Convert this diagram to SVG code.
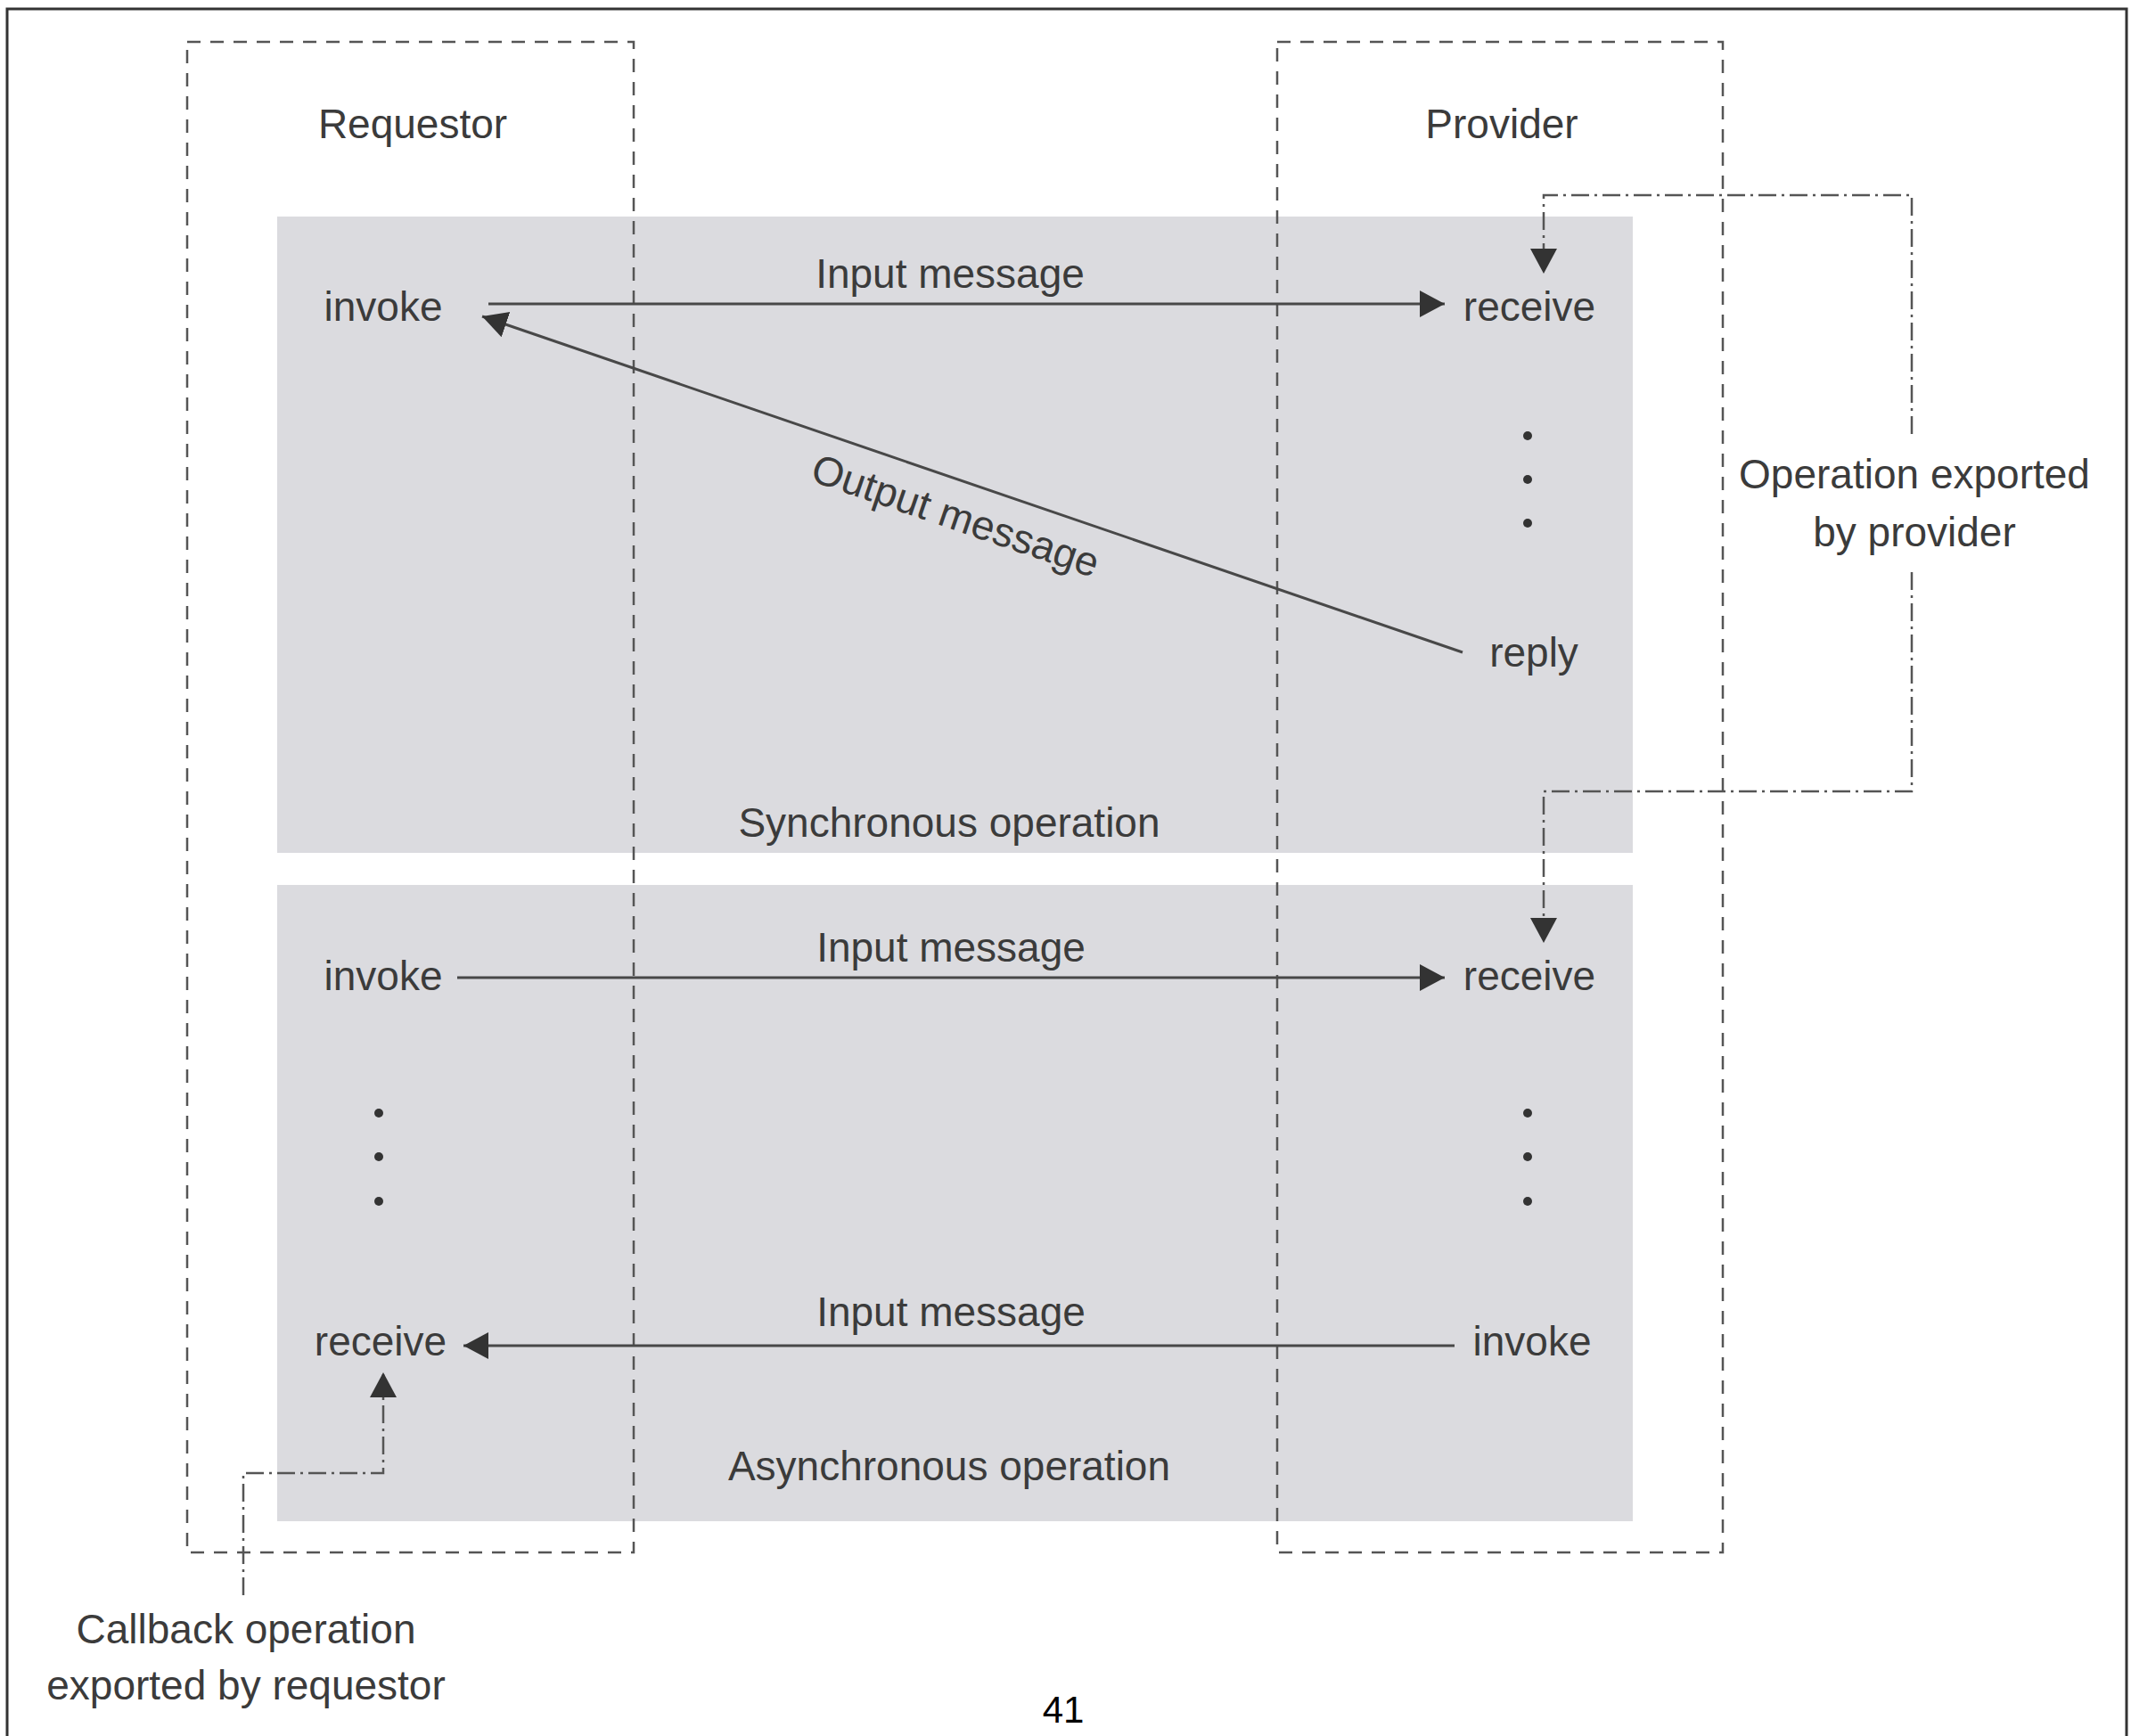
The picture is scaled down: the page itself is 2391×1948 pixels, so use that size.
<svg xmlns="http://www.w3.org/2000/svg" width="2391" height="1948" viewBox="0 0 2391 1948">
<style>
  .lbl { font-family: "Liberation Sans", Arial, sans-serif; font-size: 46px; fill: #3b3b3b; text-anchor: middle; }
  .panel { fill: #dbdbdf; stroke: none; }
  .lane { fill: none; stroke: #555; stroke-width: 2.5; stroke-dasharray: 15 11; }
  .msg { fill: none; stroke: #484848; stroke-width: 3; }
  .exp { fill: none; stroke: #555; stroke-width: 2.5; stroke-dasharray: 20 6 3 6; }
  .dot { fill: #333; }
</style>
<defs>
  <marker id="arrow" markerUnits="userSpaceOnUse" markerWidth="30" markerHeight="32" refX="28" refY="15" orient="auto">
    <path d="M0,0 L28,15 L0,30 Z" fill="#333"/>
  </marker>
</defs>
<rect x="0" y="0" width="2391" height="1948" fill="#fff"/>
<path d="M8,1948 V10 H2386 V1948" fill="none" stroke="#333" stroke-width="3"/>

<g id="sync-panel">
  <rect class="panel" x="311" y="243" width="1521" height="714"/>
  <text class="lbl" x="1065" y="939">Synchronous operation</text>
</g>
<g id="async-panel">
  <rect class="panel" x="311" y="993" width="1521" height="714"/>
  <text class="lbl" x="1065" y="1661">Asynchronous operation</text>
</g>

<g id="requestor">
  <rect class="lane" x="210" y="47" width="501" height="1695"/>
  <text class="lbl" x="463" y="155">Requestor</text>
</g>
<g id="provider">
  <rect class="lane" x="1433" y="47" width="500" height="1695"/>
  <text class="lbl" x="1685" y="155">Provider</text>
</g>

<g id="sync-invoke"><text class="lbl" x="430" y="360">invoke</text></g>
<g id="sync-receive"><text class="lbl" x="1716" y="360">receive</text></g>
<g id="sync-dots">
  <circle class="dot" cx="1714" cy="489" r="5"/>
  <circle class="dot" cx="1714" cy="538" r="5"/>
  <circle class="dot" cx="1714" cy="587" r="5"/>
</g>
<g id="sync-reply"><text class="lbl" x="1721" y="748">reply</text></g>

<g id="async-invoke"><text class="lbl" x="430" y="1111">invoke</text></g>
<g id="async-receive"><text class="lbl" x="1716" y="1111">receive</text></g>
<g id="async-dots-left">
  <circle class="dot" cx="425" cy="1249" r="5"/>
  <circle class="dot" cx="425" cy="1298" r="5"/>
  <circle class="dot" cx="425" cy="1348" r="5"/>
</g>
<g id="async-dots-right">
  <circle class="dot" cx="1714" cy="1249" r="5"/>
  <circle class="dot" cx="1714" cy="1298" r="5"/>
  <circle class="dot" cx="1714" cy="1348" r="5"/>
</g>
<g id="callback-receive"><text class="lbl" x="427" y="1521">receive</text></g>
<g id="callback-invoke"><text class="lbl" x="1719" y="1521">invoke</text></g>

<g id="note-provider">
  <text class="lbl" x="2148" y="548">Operation exported</text>
  <text class="lbl" x="2148" y="613">by provider</text>
</g>
<g id="note-requestor">
  <text class="lbl" x="276" y="1844">Callback operation</text>
  <text class="lbl" x="276" y="1907">exported by requestor</text>
</g>

<g id="connectors">
  <line class="msg" x1="548" y1="341" x2="1621" y2="341" marker-end="url(#arrow)"/>
  <text class="lbl" x="1066" y="323">Input message</text>
  <line class="msg" x1="1641" y1="732" x2="541" y2="355" marker-end="url(#arrow)"/>
  <text class="lbl" x="0" y="55" transform="translate(1085,541.5) rotate(18.92)">Output message</text>
  <line class="msg" x1="513" y1="1097" x2="1621" y2="1097" marker-end="url(#arrow)"/>
  <text class="lbl" x="1067" y="1079">Input message</text>
  <line class="msg" x1="1632" y1="1510" x2="520" y2="1510" marker-end="url(#arrow)"/>
  <text class="lbl" x="1067" y="1488">Input message</text>
  <path class="exp" d="M2145,487 V219 H1732 V307" marker-end="url(#arrow)"/>
  <path class="exp" d="M2145,642 V888 H1732 V1058" marker-end="url(#arrow)"/>
  <path class="exp" d="M273,1790 V1653 H430 V1540" marker-end="url(#arrow)"/>
</g>

<text x="1193" y="1933" font-family="Liberation Sans, Arial, sans-serif" font-size="42" fill="#000" text-anchor="middle">41</text>
</svg>
